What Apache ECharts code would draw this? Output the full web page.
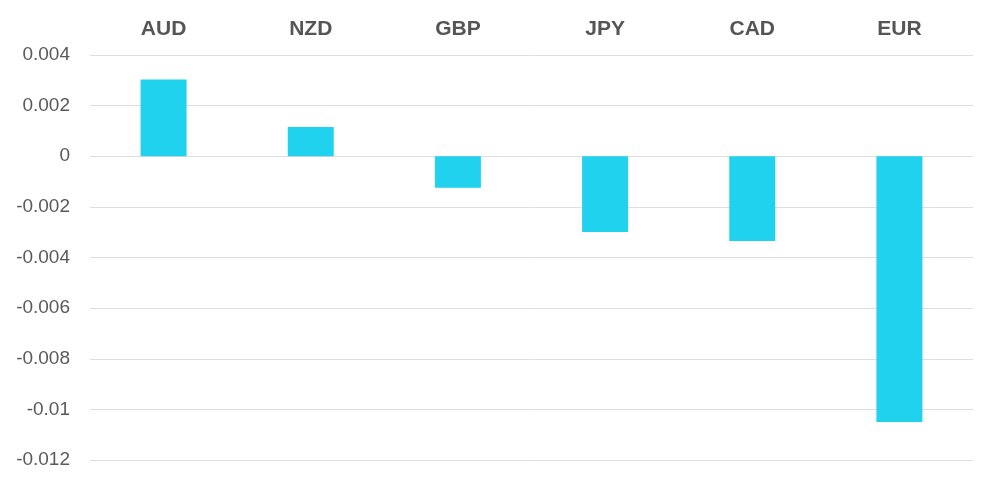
<!DOCTYPE html>
<html><head><meta charset="utf-8">
<script src="https://cdn.jsdelivr.net/npm/echarts@6/dist/echarts.min.js"></script>
<style>html,body{margin:0;padding:0;background:#fff}#c{width:1000px;height:487px}</style>
</head><body><div id="c"></div>
<script>
const categories = ['AUD','NZD','GBP','JPY','CAD','EUR'];
const values = [0.00303, 0.00116, -0.00124, -0.00299, -0.00335, -0.0105];

const chart = echarts.init(document.getElementById('c'));
chart.setOption({
  animation: false,
  grid: {left: 90, right: 27, top: 55, bottom: 27},
  xAxis: {
    type: 'category', position: 'top', data: categories,
    axisLine: {show: false}, axisTick: {show: false},
    axisLabel: {color: '#555', fontSize: 21, fontWeight: 'bold', fontFamily: 'Liberation Sans, Arial, sans-serif', margin: 15}
  },
  yAxis: {
    type: 'value', min: -0.012, max: 0.004, interval: 0.002,
    axisLine: {show: false}, axisTick: {show: false},
    splitLine: {lineStyle: {color: '#dedede', width: 1}},
    axisLabel: {color: '#5a5a5a', fontSize: 19, fontFamily: 'Liberation Sans, Arial, sans-serif', margin: 20,
      formatter: v => String(parseFloat(v.toFixed(6)))}
  },
  series: [{
    type: 'bar', data: values, barWidth: 46,
    itemStyle: {color: '#21d2ee'}
  }]
});
</script></body></html>
